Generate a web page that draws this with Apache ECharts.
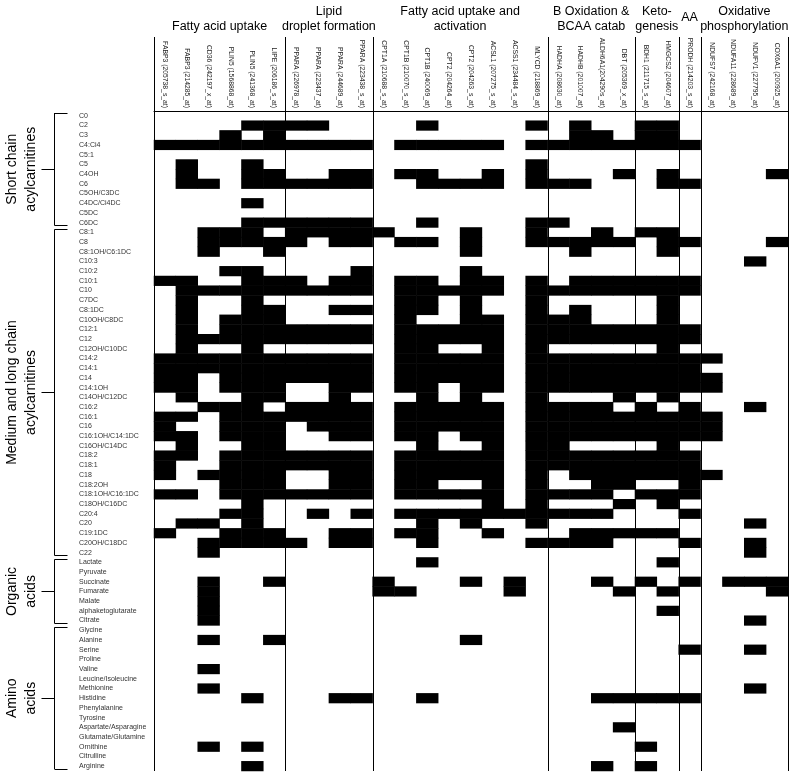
<!DOCTYPE html>
<html><head><meta charset="utf-8">
<script src="https://cdn.jsdelivr.net/npm/echarts@6.0.0/dist/echarts.min.js"></script>
<style>html,body{margin:0;padding:0;background:#fff}#c{width:800px;height:779px}</style>
</head><body><div id="c"></div><script>
const genes = ['FABP3 (205738_s_at)','FABP3 (214285_at)','CD36 (242197_x_at)','PLIN5 (1568868_at)','PLIN5 (241368_at)','LIPE (206186_s_at)',
  'PPARA (226978_at)','PPARA (223437_at)','PPARA (244689_at)','PPARA (223438_s_at)',
  'CPT1A (210688_s_at)','CPT1B (210070_s_at)','CPT1B (240069_at)','CPT2 (204264_at)','CPT2 (204263_s_at)','ACSL1 (207275_s_at)','ACSS1 (234484_s_at)','MLYCD (218869_at)',
  'HADHA (208630_at)','HADHB (201007_at)','ALDH6A1(204290s_at)','DBT (205369_x_at)',
  'BDH1 (211715_s_at)','HMGCS2 (204607_at)','PRODH (214203_s_at)',
  'NDUFS7 (242168_at)','NDUFA11 (228689_at)','NDUFV1 (227795_at)','COX6A1 (200925_at)'];
const metabolites = ['C0','C2','C3','C4:Ci4','C5:1','C5','C4OH','C6','C5OH/C3DC','C4DC/Ci4DC','C5DC','C6DC',
  'C8:1','C8','C8:1OH/C6:1DC','C10:3','C10:2','C10:1','C10','C7DC','C8:1DC','C10OH/C8DC','C12:1','C12','C12OH/C10DC',
  'C14:2','C14:1','C14','C14:1OH','C14OH/C12DC','C16:2','C16:1','C16','C16:1OH/C14:1DC','C16OH/C14DC','C18:2','C18:1','C18',
  'C18:2OH','C18:1OH/C16:1DC','C18OH/C16DC','C20:4','C20','C19:1DC','C20OH/C18DC','C22',
  'Lactate','Pyruvate','Succinate','Fumarate','Malate','alphaketoglutarate','Citrate',
  'Glycine','Alanine','Serine','Proline','Valine','Leucine/Isoleucine','Methionine','Histidine','Phenylalanine','Tyrosine',
  'Aspartate/Asparagine','Glutamate/Glutamine','Ornithine','Citrulline','Arginine'];
const geneGroups = [
  {name:'Fatty acid uptake', from:0, to:5},
  {name:'Lipid\ndroplet formation', from:6, to:9},
  {name:'Fatty acid uptake and\nactivation', from:10, to:17},
  {name:'B Oxidation &\nBCAA catab', from:18, to:21},
  {name:'Keto-\ngenesis', from:22, to:23},
  {name:'AA', from:24, to:24},
  {name:'Oxidative\nphosphorylation', from:25, to:28}
];
const metaboliteGroups = [
  {name:'Short chain\nacylcarnitines', from:0, to:11},
  {name:'Medium and long chain\nacylcarnitines', from:12, to:45},
  {name:'Organic\nacids', from:46, to:52},
  {name:'Amino\nacids', from:53, to:67}
];
// column indices (genes) marked black for each metabolite row
const shortChainHits = [
  [],
  [4,5,6,7,12,17,19,22,23],
  [3,5,19,20,22,23],
  [0,1,2,3,4,5,6,7,8,9,11,12,13,14,15,17,18,19,20,21,22,23,24],
  [],
  [1,4,17],
  [1,4,5,8,9,11,12,15,17,21,23,28],
  [1,2,4,5,6,7,8,9,12,13,14,15,17,18,19,23,24],
  [],
  [4],
  [],
  [4,5,6,7,8,9,12,17,18]
];
const mediumLongHits = [
  [2,3,4,6,7,8,9,10,14,17,20,22,23],
  [2,3,4,5,6,8,9,11,12,14,17,18,19,20,21,23,24,28],
  [2,5,14,19,23],
  [27],
  [3,4,9,14],
  [0,1,4,5,6,8,9,11,12,14,15,17,19,20,21,22,23,24],
  [1,2,3,4,5,6,7,8,9,11,12,13,14,15,17,18,19,20,21,22,23,24],
  [1,4,11,12,14,17,23],
  [1,4,5,8,9,11,12,14,17,19,23],
  [1,3,4,5,11,14,15,17,18,19,23],
  [1,3,4,5,6,7,8,9,11,12,13,14,15,17,18,19,20,21,22,23,24],
  [1,2,3,4,5,6,7,8,9,11,12,13,14,15,17,18,19,20,21,22,23,24],
  [1,4,11,12,15,17,23],
  [0,1,2,3,4,5,6,7,8,9,11,12,13,14,15,17,18,19,20,21,22,23,24,25],
  [0,1,2,3,4,5,6,7,8,9,11,12,13,14,15,17,18,19,20,21,22,23,24],
  [0,1,3,4,5,6,7,8,9,11,12,13,14,15,17,18,19,20,21,22,23,24,25],
  [0,1,3,4,5,8,9,11,12,14,15,17,18,19,20,21,22,23,24,25],
  [1,4,5,8,12,14,17,21,23],
  [2,3,4,6,7,8,9,11,12,13,14,15,17,18,19,20,22,24,27],
  [0,1,3,4,5,6,7,8,9,11,12,13,14,15,17,18,19,20,21,22,23,24,25],
  [0,3,4,5,7,8,9,11,12,13,14,15,17,18,19,20,21,22,23,24,25],
  [0,1,3,4,5,8,9,11,12,14,15,17,18,19,20,21,22,23,24,25],
  [1,4,5,12,15,17,18,23],
  [0,1,3,4,5,6,7,8,9,11,12,13,14,15,17,18,19,20,21,22,23,24],
  [0,3,4,5,6,7,8,9,11,12,13,14,15,17,18,19,20,21,22,23,24],
  [0,2,3,4,5,8,9,11,12,13,14,15,17,19,20,21,22,23,24,25],
  [3,4,5,8,9,11,12,15,17,20,21,24],
  [0,1,3,4,5,6,7,8,9,11,12,13,14,15,17,18,19,20,22,23,24],
  [4,15,17,21,23],
  [3,4,7,9,11,12,13,14,15,16,17,18,19,20,24],
  [1,2,4,12,14,17,27],
  [0,3,4,5,8,9,11,12,15,19,20,21,22,23],
  [2,3,4,5,6,8,9,12,17,18,19,20,24,27],
  [2,27]
];
const organicAcidHits = [
  [12,23],
  [],
  [2,5,10,14,16,20,22,24,26,27,28],
  [2,10,11,16,21,23,28],
  [2],
  [2,23],
  [2,27]
];
const aminoAcidHits = [
  [],
  [2,5,14],
  [24,27],
  [],
  [2],
  [],
  [2,27],
  [4,8,9,12,20,21,22,23,24],
  [],
  [],
  [21],
  [],
  [2,4,22],
  [],
  [4,20,22]
];

const FONT = '"Liberation Sans", Arial, sans-serif';
const hitRows = [].concat(shortChainHits, mediumLongHits, organicAcidHits, aminoAcidHits);
const cells = [];
hitRows.forEach((cols, r) => cols.forEach(c => cells.push([c, r, 1])));
const boundaries = [];
geneGroups.forEach(g => boundaries.push(g.from));
boundaries.push(genes.length);

function colEdge(api, k) {
  const w = api.size([1, 0])[0];
  const last = genes.length - 1;
  const c = api.coord([Math.min(k, last), 0])[0];
  return k <= last ? c - w / 2 : c + w / 2;
}
function rowEdge(api, r) {
  const h = api.size([0, 1])[1];
  const last = metabolites.length - 1;
  const c = api.coord([0, Math.min(r, last)])[1];
  return r <= last ? c - h / 2 : c + h / 2;
}

const chart = echarts.init(document.getElementById('c'), null, {renderer: 'canvas'});
chart.setOption({
  animation: false,
  backgroundColor: '#fff',
  grid: {left: 154, right: 12, top: 111, bottom: 8, containLabel: false, outerBoundsMode: 'none'},
  xAxis: {
    type: 'category', data: genes, position: 'top',
    axisLine: {show: true, lineStyle: {color: '#000', width: 1}},
    axisTick: {show: false},
    splitLine: {show: false},
    axisLabel: {interval: 0, rotate: 90, margin: 3, fontSize: 6.8, color: '#222', fontFamily: FONT, hideOverlap: false}
  },
  yAxis: {
    type: 'category', data: metabolites, inverse: true,
    axisLine: {show: false}, axisTick: {show: false}, splitLine: {show: false},
    axisLabel: {interval: 0, align: 'left', margin: 75, fontSize: 7, color: '#333', fontFamily: FONT, hideOverlap: false}
  },
  visualMap: {show: false, type: 'piecewise', dimension: 2, pieces: [{value: 1, color: '#000'}]},
  series: [
    {type: 'heatmap', data: cells, silent: true, itemStyle: {borderWidth: 0}, emphasis: {disabled: true}},
    {
      type: 'custom', silent: true, z: 5,
      data: boundaries.map(b => [Math.min(b, genes.length - 1), 0]),
      renderItem: (params, api) => {
        const k = boundaries[params.dataIndex];
        const x = Math.round(colEdge(api, k)) + 0.5;
        const cs = params.coordSys;
        return {type: 'line', shape: {x1: x, y1: cs.y - 74, x2: x, y2: cs.y + cs.height},
          style: {stroke: '#000', lineWidth: 1}};
      }
    },
    {
      type: 'custom', silent: true, z: 5,
      data: geneGroups.map(g => [g.from, 0]),
      renderItem: (params, api) => {
        const g = geneGroups[params.dataIndex];
        const cs = params.coordSys;
        const x = (colEdge(api, g.from) + colEdge(api, g.to + 1)) / 2;
        const single = g.from === g.to;
        return {type: 'text', x: x, y: single ? cs.y - 93 : cs.y - 76.5,
          style: {text: g.name, fill: '#000', fontSize: 12.5, fontFamily: FONT, lineHeight: 15,
            align: 'center', verticalAlign: single ? 'middle' : 'bottom'}};
      }
    },
    {
      type: 'custom', silent: true, z: 5,
      data: metaboliteGroups.map(g => [0, g.from]),
      renderItem: (params, api) => {
        const g = metaboliteGroups[params.dataIndex];
        const cs = params.coordSys;
        const y1 = rowEdge(api, g.from) + 2;
        const y2 = rowEdge(api, g.to + 1) - 2;
        const ym = Math.round((y1 + y2) / 2) + 0.5;
        const bx = cs.x - 99.5;
        return {type: 'group', children: [
          {type: 'line', shape: {x1: bx, y1: y1, x2: bx, y2: y2}, style: {stroke: '#000', lineWidth: 1}},
          {type: 'line', shape: {x1: bx, y1: Math.round(y1) + 0.5, x2: bx + 13, y2: Math.round(y1) + 0.5}, style: {stroke: '#000', lineWidth: 1}},
          {type: 'line', shape: {x1: bx, y1: Math.round(y2) + 0.5, x2: bx + 13, y2: Math.round(y2) + 0.5}, style: {stroke: '#000', lineWidth: 1}},
          {type: 'line', shape: {x1: bx - 13, y1: ym, x2: bx, y2: ym}, style: {stroke: '#000', lineWidth: 1}},
          {type: 'text', x: cs.x - 132, y: (y1 + y2) / 2, rotation: Math.PI / 2,
            style: {text: g.name, fill: '#000', fontSize: 14, fontFamily: FONT, lineHeight: 19,
              align: 'center', verticalAlign: 'middle'}}
        ]};
      }
    }
  ]
});
</script></body></html>
